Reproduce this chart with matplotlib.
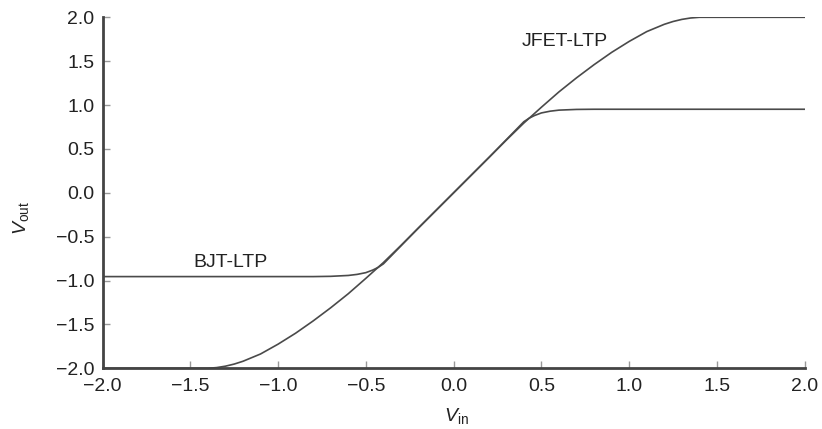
import matplotlib
matplotlib.use('Agg')
import matplotlib.pyplot as plt

# valores
vin_jfet = [-2.0, -1.45, -1.4, -1.35, -1.3, -1.25, -1.2, -1.1, -1.0, -0.9, -0.8, -0.7, -0.6,
            -0.5, -0.4, -0.3, -0.2, -0.1, 0.0, 0.1, 0.2, 0.3, 0.4, 0.5, 0.6, 0.7, 0.8,
            0.9, 1.0, 1.1, 1.2, 1.25, 1.3, 1.35, 1.4, 1.45, 2.0]
vout_jfet = [-2.0, -2.0, -2.0, -1.992, -1.976, -1.952, -1.92, -1.837, -1.725, -1.60, -1.46, -1.31,
             -1.15, -0.975, -0.795, -0.60, -0.40, -0.20, 0.0, 0.20, 0.40, 0.60, 0.795, 0.975,
             1.15, 1.31, 1.46, 1.60, 1.725, 1.837, 1.92, 1.952, 1.976, 1.992, 2.0, 2.0, 2.0]

vin_bjt = [-2.0, -0.8, -0.7, -0.6, -0.55, -0.5, -0.46, -0.43, -0.4, -0.3, -0.2, -0.1, 0.0,
           0.1, 0.2, 0.3, 0.4, 0.43, 0.46, 0.5, 0.55, 0.6, 0.7, 0.8, 2.0]
vout_bjt = [-0.955, -0.955, -0.952, -0.942, -0.93, -0.91, -0.88, -0.85, -0.81, -0.605, -0.40,
            -0.20, 0.0, 0.20, 0.40, 0.605, 0.81, 0.85, 0.88, 0.91, 0.93, 0.942, 0.95, 0.952, 0.952]

ticks = [-2.0, -1.5, -1.0, -0.5, 0.0, 0.5, 1.0, 1.5, 2.0]

plt.rcParams['font.family'] = ['Liberation Sans', 'DejaVu Sans']
plt.rcParams['mathtext.fontset'] = 'custom'
plt.rcParams['mathtext.rm'] = 'Liberation Sans'
plt.rcParams['mathtext.it'] = 'Liberation Sans:italic'

fig = plt.figure(figsize=(8.22, 4.29), dpi=100)
ax = fig.add_axes([0.1247, 0.1415, 0.8543, 0.8182])

color = '#4a4a4a'
ax.plot(vin_jfet, vout_jfet, color=color, lw=1.2)
ax.plot(vin_bjt, vout_bjt, color=color, lw=1.2)

ax.text(-1.269, -0.80, 'BJT-LTP', fontsize=14, ha='center', va='center', color='#222222')
ax.text(0.635, 1.72, 'JFET-LTP', fontsize=14, ha='center', va='center', color='#222222')

ax.set_xlim(-2.0, 2.0)
ax.set_ylim(-2.0, 2.0)
ax.set_xticks(ticks)
ax.set_yticks(ticks)
ax.set_xticklabels([f'{t:.1f}'.replace('-', '\u2212') for t in ticks])
ax.set_yticklabels([f'{t:.1f}'.replace('-', '\u2212') for t in ticks])
ax.tick_params(direction='in', length=5, width=1, colors='#999999', labelcolor='#222222',
               labelsize=14)
ax.tick_params(axis='x', pad=7)
ax.tick_params(axis='y', pad=6)

for s in ['top', 'right']:
    ax.spines[s].set_visible(False)
for s in ['left', 'bottom']:
    ax.spines[s].set_color('#444444')
    ax.spines[s].set_linewidth(2)

fig.text(456 / 822, 1 - 416 / 429, r'$V_{\mathrm{in}}$', fontsize=14, color='#222222',
         ha='center', va='center')
fig.text(21 / 822, 1 - 218 / 429, r'$V_{\mathrm{out}}$', fontsize=14, color='#222222',
         ha='center', va='center', rotation=90)

plt.savefig('out.png', dpi=100)
